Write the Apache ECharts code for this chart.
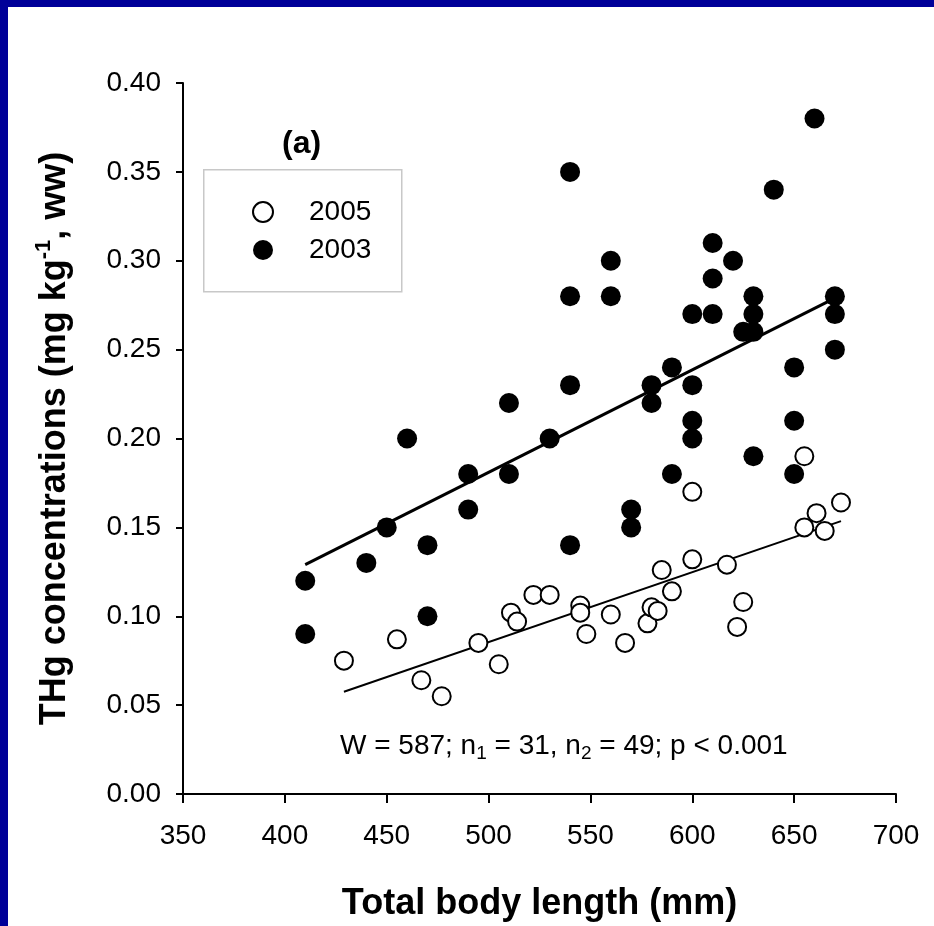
<!DOCTYPE html>
<html>
<head>
<meta charset="utf-8">
<title>THg vs total body length</title>
<script src="https://cdn.jsdelivr.net/npm/echarts@6/dist/echarts.min.js"></script>
<style>
  html, body { margin: 0; padding: 0; background: #fff; }
  #chart { width: 934px; height: 926px; }
</style>
</head>
<body>
<div id="chart"></div>
<script>
// axis ranges
const xRange = [350, 700, 50];
const yRange = [0, 0.4, 0.05];

// 2005 fish (open circles): [length mm, THg mg/kg]
const data2005 = [
  [429, 0.075], [455, 0.087], [467, 0.064], [477, 0.055], [495, 0.085],
  [505, 0.073], [511, 0.102], [514, 0.097], [522, 0.112], [530, 0.112],
  [545, 0.106], [545, 0.102], [548, 0.090], [560, 0.101], [567, 0.085],
  [578, 0.096], [580, 0.105], [583, 0.103], [585, 0.126], [590, 0.114],
  [600, 0.170], [600, 0.132], [617, 0.129], [622, 0.094], [625, 0.108],
  [655, 0.190], [655, 0.150], [661, 0.158], [665, 0.148], [673, 0.164]
];

// 2003 fish (filled circles)
const data2003 = [
  [410, 0.12], [410, 0.09], [440, 0.13], [450, 0.15], [460, 0.20],
  [470, 0.14], [470, 0.10], [490, 0.18], [490, 0.16], [510, 0.22],
  [510, 0.18], [530, 0.20], [540, 0.35], [540, 0.28], [540, 0.23],
  [540, 0.14], [560, 0.30], [560, 0.28], [570, 0.16], [570, 0.15],
  [580, 0.23], [580, 0.22], [590, 0.24], [590, 0.18], [600, 0.27],
  [600, 0.23], [600, 0.21], [600, 0.20], [610, 0.31], [610, 0.29],
  [610, 0.27], [620, 0.30], [625, 0.26], [630, 0.28], [630, 0.27],
  [630, 0.26], [630, 0.19], [640, 0.34], [650, 0.24], [650, 0.21],
  [650, 0.18], [660, 0.38], [670, 0.28], [670, 0.27], [670, 0.25]
];

// fitted lines, end points
const fit2005 = [[429, 0.0575], [673, 0.1535]];
const fit2003 = [[410, 0.129], [670, 0.279]];

const font = "'Liberation Sans', Arial, Helvetica, sans-serif";

const chart = echarts.init(document.getElementById("chart"));
const option = {
  backgroundColor: "#fff",
  animation: false,
  textStyle: { fontFamily: font, color: "#000" },
  grid: {
    left: 183,
    top: 83,
    width: 713,
    height: 711,
    outerBoundsMode: "none",
  },
  legend: {
    orient: "vertical",
    left: 252,
    top: 198,
    padding: 0,
    itemWidth: 20,
    itemHeight: 20,
    itemGap: 10,
    icon: "circle",
    data: ["2005", "2003"],
    textStyle: { fontFamily: font, fontSize: 28, color: "#000", padding: [0, 0, 0, 31] },
  },
  graphic: [
    // blue frame
    { type: "rect", left: 0, top: 0, shape: { width: 934, height: 7 }, style: { fill: "#000099" } },
    { type: "rect", left: 0, top: 0, shape: { width: 8, height: 926 }, style: { fill: "#000099" } },
    // legend box
    {
      type: "rect", left: 203, top: 169, z: -1,
      shape: { width: 198, height: 122 },
      style: { fill: "#fff", stroke: "#c8c8c8", lineWidth: 1.5 },
    },
    {
      type: "text", left: 282, top: 128,
      style: { text: "(a)", font: "bold 32px " + font, fill: "#000" },
    },
    {
      type: "text", left: 340, top: 732,
      style: {
        text: "{t|W = 587; n}{b|1}{t| = 31, n}{b|2}{t| = 49; p < 0.001}",
        rich: {
          t: { fontFamily: font, fontSize: 28, lineHeight: 34, fill: "#000" },
          b: { fontFamily: font, fontSize: 19, lineHeight: 18, verticalAlign: "bottom", fill: "#000" },
        },
      },
    },
  ],
  xAxis: {
    type: "value",
    min: xRange[0],
    max: xRange[1],
    interval: xRange[2],
    splitLine: { show: false },
    axisLine: { onZero: false, lineStyle: { color: "#000", width: 2 } },
    axisTick: { show: true, inside: false, length: 9, lineStyle: { color: "#000", width: 2 } },
    axisLabel: { fontSize: 28, color: "#000", margin: 28, fontFamily: font },
    name: "Total body length (mm)",
    nameLocation: "middle",
    nameGap: 92,
    nameTextStyle: { fontSize: 36, fontWeight: "bold", color: "#000", fontFamily: font },
  },
  yAxis: {
    type: "value",
    min: yRange[0],
    max: yRange[1],
    interval: yRange[2],
    splitLine: { show: false },
    axisLine: { show: true, onZero: false, lineStyle: { color: "#000", width: 2 } },
    axisTick: { show: true, inside: false, length: 7, lineStyle: { color: "#000", width: 2 } },
    axisLabel: {
      fontSize: 28, color: "#000", margin: 22, fontFamily: font,
      formatter: (v) => v.toFixed(2),
    },
    name: "{a|THg concentrations (mg kg}{s|-1}{a|, ww)}",
    nameLocation: "middle",
    nameRotate: 90,
    nameGap: 106,
    nameTextStyle: {
      rich: {
        a: { fontSize: 36, fontWeight: "bold", lineHeight: 44, color: "#000", fontFamily: font },
        s: { fontSize: 22, fontWeight: "bold", lineHeight: 22, verticalAlign: "top", color: "#000", fontFamily: font },
      },
    },
  },
  series: [
    {
      name: "fit2003",
      type: "line",
      data: fit2003,
      showSymbol: false,
      z: 1,
      lineStyle: { color: "#000", width: 3 },
      silent: true,
    },
    {
      name: "fit2005",
      type: "line",
      data: fit2005,
      showSymbol: false,
      z: 1,
      lineStyle: { color: "#000", width: 2 },
      silent: true,
    },
    {
      name: "2003",
      type: "scatter",
      data: data2003,
      symbol: "circle",
      symbolSize: 20,
      z: 3,
      itemStyle: { color: "#000", opacity: 1 },
    },
    {
      name: "2005",
      type: "scatter",
      data: data2005,
      symbol: "circle",
      symbolSize: 18,
      z: 4,
      itemStyle: { color: "#fff", borderColor: "#000", borderWidth: 2, opacity: 1 },
    },
  ],
};
option && chart.setOption(option);
</script>
</body>
</html>
